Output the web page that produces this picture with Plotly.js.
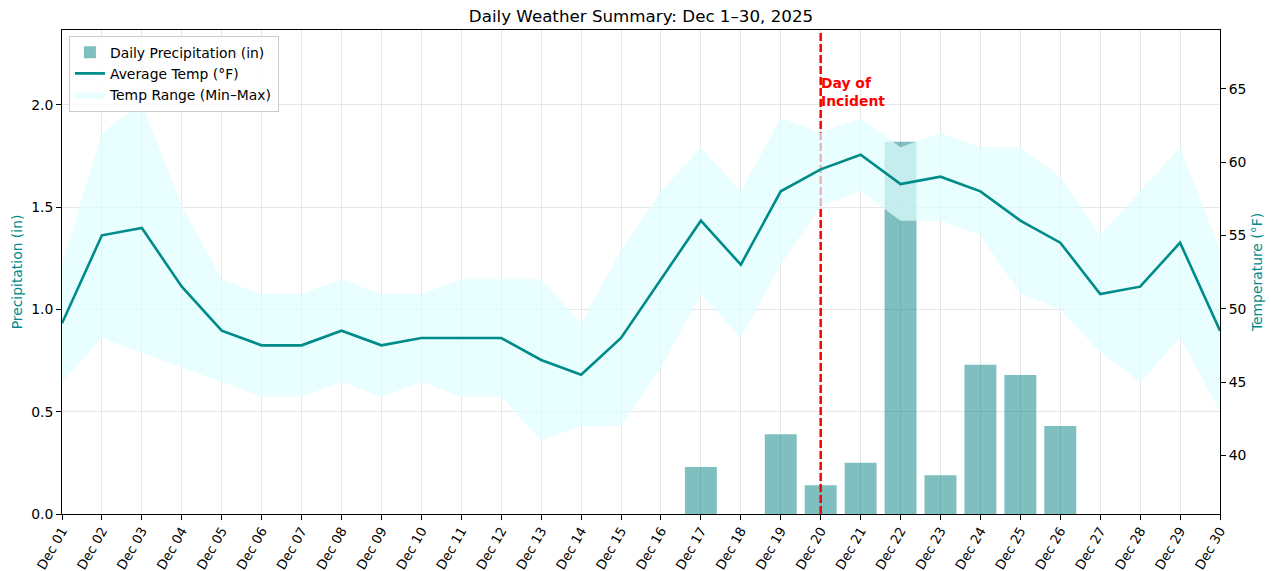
<!DOCTYPE html>
<html>
<head>
<meta charset="utf-8">
<script src="https://cdn.plot.ly/plotly-3.0.1.min.js"></script>
<style>
  html, body { margin: 0; padding: 0; background: #ffffff; }
  #chart { width: 1271px; height: 571px; }
</style>
</head>
<body>
<div id="chart"></div>
<script>
// ---- Data ----
const categories = ['Dec 01','Dec 02','Dec 03','Dec 04','Dec 05','Dec 06','Dec 07','Dec 08','Dec 09','Dec 10',
                    'Dec 11','Dec 12','Dec 13','Dec 14','Dec 15','Dec 16','Dec 17','Dec 18','Dec 19','Dec 20',
                    'Dec 21','Dec 22','Dec 23','Dec 24','Dec 25','Dec 26','Dec 27','Dec 28','Dec 29','Dec 30'];
const precipIn = [0, 0, 0, 0, 0, 0, 0, 0, 0, 0,
                  0, 0, 0, 0, 0, 0, 0.23, 0, 0.39, 0.14,
                  0.25, 1.82, 0.19, 0.73, 0.68, 0.43, 0, 0, 0, 0];
const tempMin = [45, 48, 47, 46, 45, 44, 44, 45, 44, 45,
                 44, 44, 41, 42, 42, 46, 51, 48, 53, 57,
                 58, 56, 56, 55, 51, 50, 47, 45, 48, 43];
const tempMax = [53, 62, 64, 57, 52, 51, 51, 52, 51, 51,
                 52, 52, 52, 49, 54, 58, 61, 58, 63, 62,
                 63, 61, 62, 61, 61, 59, 55, 58, 61, 54];
const tempAvg = [49, 55, 55.5, 51.5, 48.5, 47.5, 47.5, 48.5, 47.5, 48,
                 48, 48, 46.5, 45.5, 48, 52, 56, 53, 58, 59.5,
                 60.5, 58.5, 59, 58, 56, 54.5, 51, 51.5, 54.5, 48.5];
const incidentDay = 'Dec 20';
const incidentLabel = 'Day of<br>Incident';
const leftTicks = [0, 0.5, 1.0, 1.5, 2.0];
const rightTicks = [40, 45, 50, 55, 60, 65];

// ---- Derived ranges ----
const precipTop = Math.max(...precipIn) * 1.3;
const tempLo = Math.min(...tempMin) - 5;
const tempHi = Math.max(...tempMax) + 5;

const FONT = 'DejaVu Sans, Liberation Sans, sans-serif';
const TEAL = '#008B8B';

const traces = [
  {
    type: 'bar', x: categories, y: precipIn, width: 0.8,
    name: 'Daily Precipitation (in)', legendrank: 1,
    marker: { color: 'rgba(0,128,128,0.5)', line: { width: 0 } },
    xaxis: 'x', yaxis: 'y', hoverinfo: 'skip'
  },
  {
    type: 'scatter', mode: 'lines', x: [incidentDay, incidentDay], y: [0, precipTop],
    line: { color: 'red', width: 2.5, dash: '8px,3px' },
    showlegend: false, xaxis: 'x', yaxis: 'y', hoverinfo: 'skip'
  },
  {
    type: 'scatter', mode: 'lines', x: categories, y: tempMin,
    line: { width: 0, color: 'rgba(0,0,0,0)' },
    showlegend: false, xaxis: 'x', yaxis: 'y2', hoverinfo: 'skip'
  },
  {
    type: 'scatter', mode: 'lines', x: categories, y: tempMax,
    fill: 'tonexty', fillcolor: 'rgba(224,255,255,0.72)',
    line: { width: 0, color: 'rgba(0,0,0,0)' },
    name: 'Temp Range (Min\u2013Max)', legendrank: 3,
    xaxis: 'x', yaxis: 'y2', hoverinfo: 'skip'
  },
  {
    type: 'scatter', mode: 'lines', x: categories, y: tempAvg,
    line: { color: TEAL, width: 2.6 },
    name: 'Average Temp (\u00b0F)', legendrank: 2,
    xaxis: 'x', yaxis: 'y2', hoverinfo: 'skip'
  }
];

const layout = {
  width: 1271, height: 571,
  margin: { l: 62, r: 51, t: 30, b: 57, pad: 0 },
  paper_bgcolor: '#ffffff', plot_bgcolor: '#ffffff',
  font: { family: FONT, size: 13.9, color: '#000000' },
  showlegend: true,
  title: {
    text: 'Daily Weather Summary: Dec 1\u201330, 2025',
    font: { family: FONT, size: 16.7, color: '#000000' },
    x: 0.5, xref: 'paper', xanchor: 'center',
    y: 1 - 16 / 571, yref: 'container', yanchor: 'middle'
  },
  xaxis: {
    type: 'category', range: [0, categories.length - 1],
    tickangle: -60, tickfont: { size: 13.2, family: FONT, color: '#000' },
    ticks: 'outside', ticklen: 5, tickcolor: '#000', tickwidth: 1,
    ticklabelstandoff: -2,
    showgrid: true, gridcolor: '#e6e6e6', gridwidth: 1,
    showline: true, linecolor: '#000', linewidth: 1, mirror: true,
    zeroline: false, automargin: false, fixedrange: true
  },
  yaxis: {
    range: [0, precipTop], tickvals: leftTicks, tickformat: '.1f',
    ticks: 'outside', ticklen: 5, tickcolor: '#000', tickwidth: 1,
    tickfont: { size: 13.9, family: FONT, color: '#000' },
    showgrid: true, gridcolor: '#e6e6e6', gridwidth: 1,
    showline: true, linecolor: '#000', linewidth: 1,
    zeroline: false, automargin: false,
    title: { text: 'Precipitation (in)', font: { size: 13.9, family: FONT, color: TEAL }, standoff: 5 }
  },
  yaxis2: {
    overlaying: 'y', side: 'right', anchor: 'x',
    range: [tempLo, tempHi], tickvals: rightTicks,
    ticks: 'outside', ticklen: 5, tickcolor: '#000', tickwidth: 1,
    tickfont: { size: 13.9, family: FONT, color: '#000' },
    showgrid: false, showline: true, linecolor: '#000', linewidth: 1,
    zeroline: false, automargin: false,
    title: { text: 'Temperature (\u00b0F)', font: { size: 13.9, family: FONT, color: TEAL }, standoff: 6 }
  },
  legend: {
    x: 0.006, y: 0.988, xanchor: 'left', yanchor: 'top',
    bgcolor: 'rgba(255,255,255,0.8)', bordercolor: '#cccccc', borderwidth: 1,
    font: { size: 13.9, family: FONT, color: '#000' },
    traceorder: 'normal', itemwidth: 30
  },
  annotations: [{
    x: incidentDay, y: 2.0, xref: 'x', yref: 'y',
    text: incidentLabel, showarrow: false,
    xanchor: 'left', yanchor: 'bottom', align: 'left',
    xshift: -2, yshift: -6,
    font: { size: 13.9, family: FONT, color: 'red', weight: 'bold' }
  }]
};

Plotly.newPlot('chart', traces, layout, { displayModeBar: false, staticPlot: true });
</script>
</body>
</html>
